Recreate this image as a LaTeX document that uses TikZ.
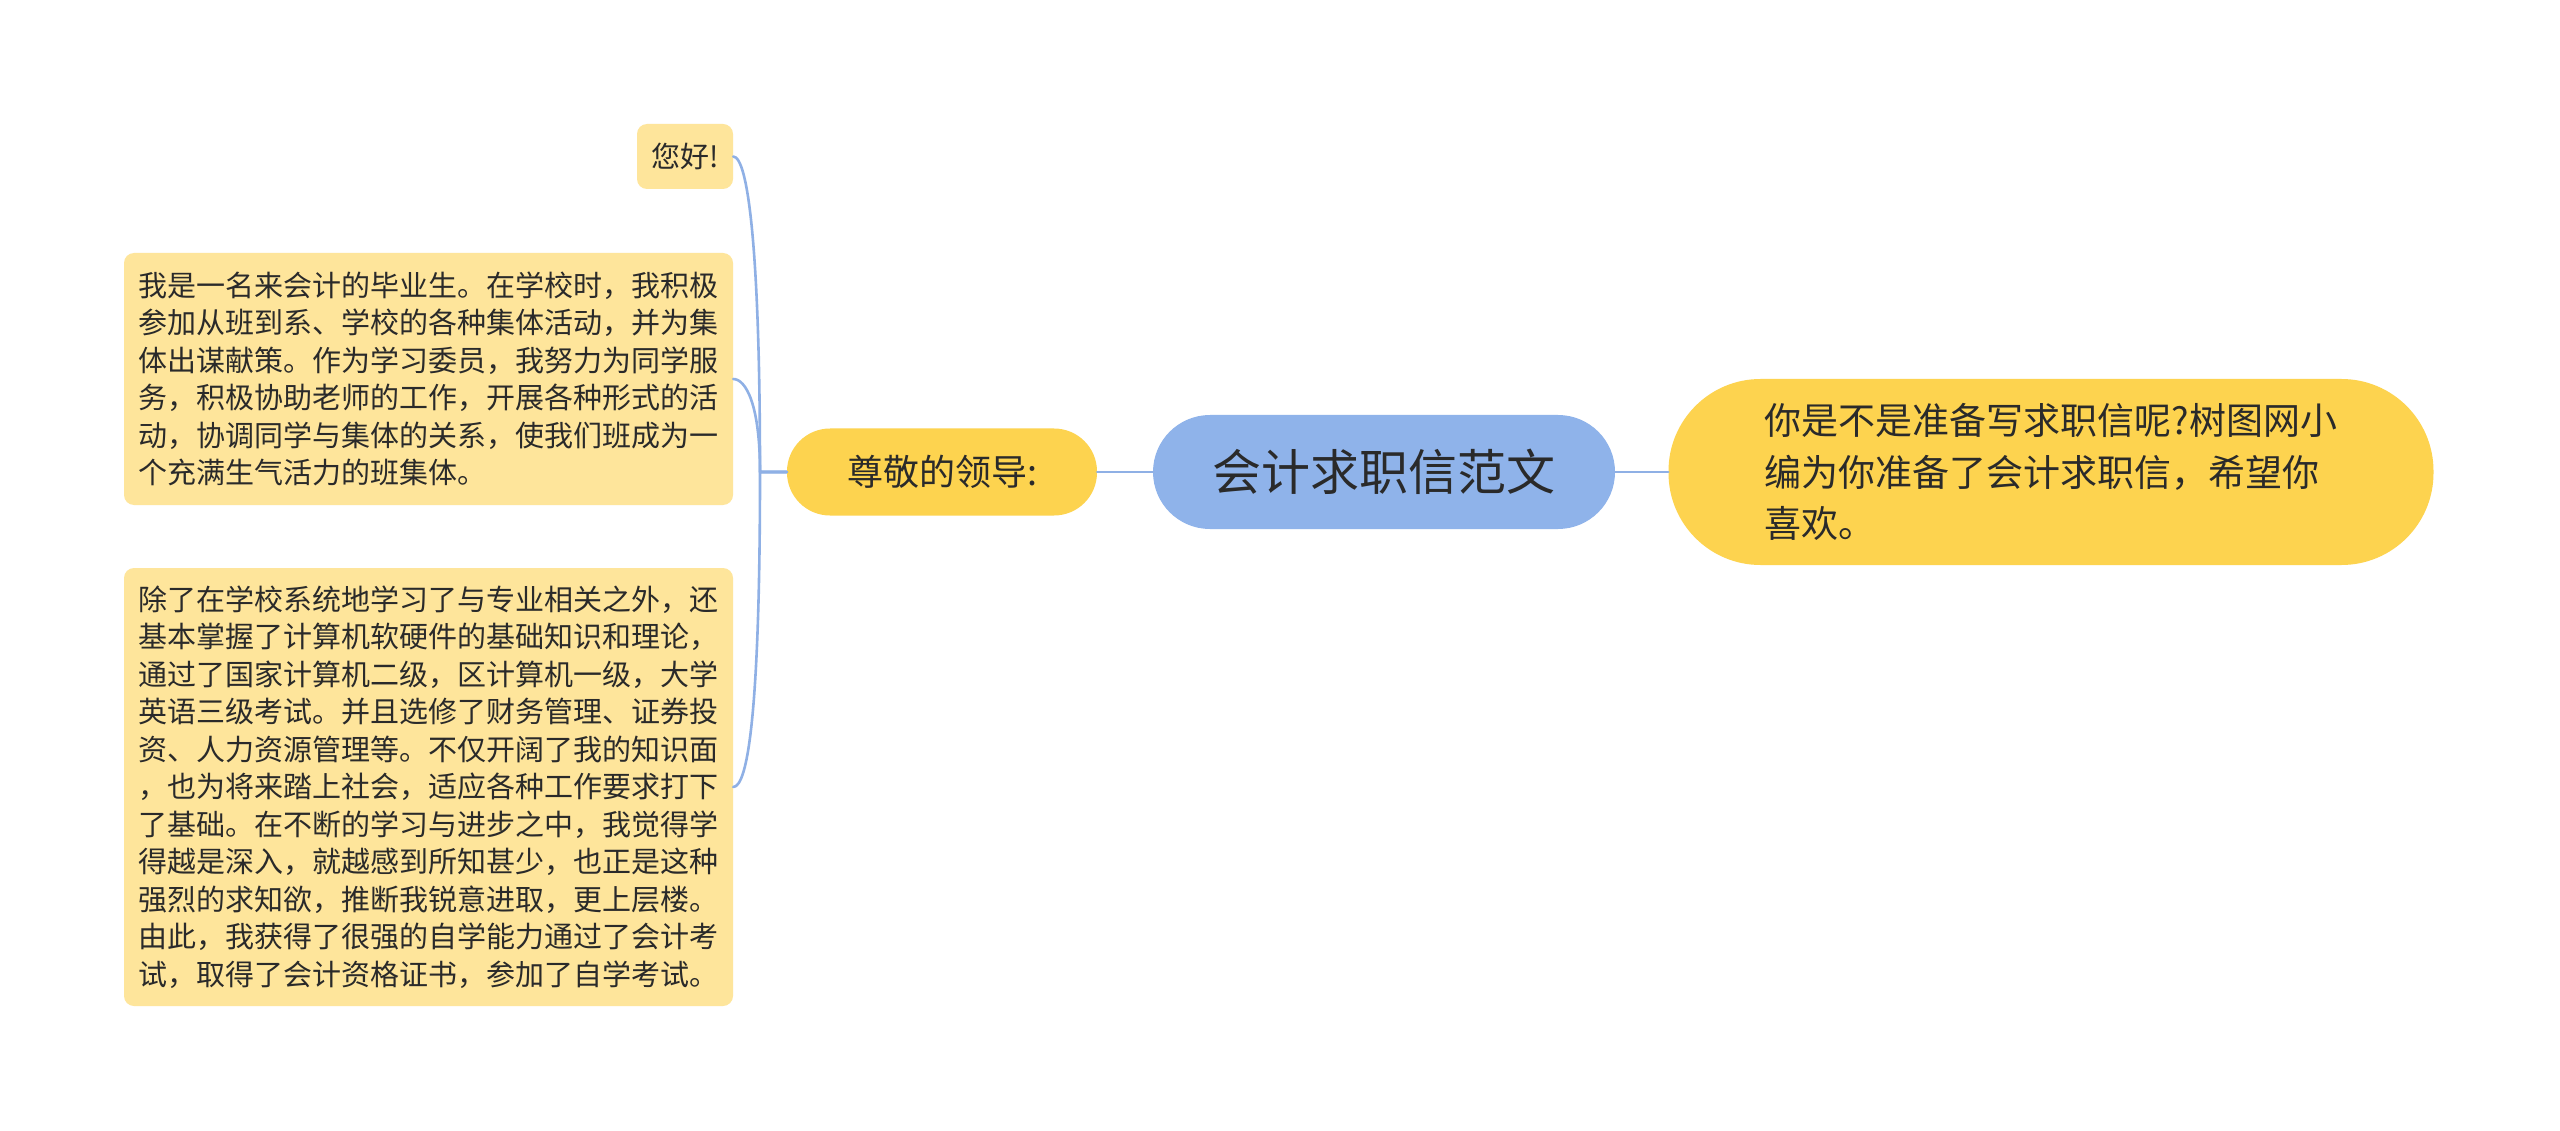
\documentclass[tikz,border=0pt]{standalone}
\usepackage{fontspec}
\newfontfamily\cjk{Noto Sans CJK SC}
\definecolor{rootfill}{HTML}{8FB3EA}
\definecolor{mainfill}{HTML}{FDD34F}
\definecolor{leaffill}{HTML}{FEE59B}
\definecolor{linecol}{HTML}{8FB0E5}
\definecolor{txt}{HTML}{2A2A2A}
\tikzset{
  rootbox/.style={fill=rootfill, draw=none, rounded corners=57pt, minimum width=462pt, minimum height=114pt, inner sep=0pt, text=txt, font=\cjk\fontsize{49}{60}\selectfont},
  mainbox/.style={fill=mainfill, draw=none, inner sep=0pt, text=txt},
  leafbox/.style={fill=leaffill, draw=none, rounded corners=10pt, inner sep=0pt, text=txt, align=left, font=\cjk\fontsize{29}{37.5}\selectfont},
  conn/.style={draw=linecol, line width=2.6pt, line cap=round, line join=round}
}
\begin{document}
\begin{tikzpicture}[x=1pt,y=-1pt]
\useasboundingbox[fill=white] (0,0) rectangle (2560,1131);

\node[rootbox] (root) at (1384,472) {会计求职信范文};
\node[mainbox, rounded corners=43pt, minimum width=310pt, minimum height=87pt, font=\cjk\fontsize{36}{44}\selectfont] (lead) at (942,472) {尊敬的领导:};
\node[mainbox, rounded corners=92pt, minimum width=765pt, minimum height=186pt, align=left, font=\cjk\fontsize{37}{51.5}\selectfont] (intro) at (2051,472) {你是不是准备写求职信呢?树图网小\\编为你准备了会计求职信，希望你\\喜欢。};

\node[leafbox, minimum width=96pt, minimum height=65pt] (hello) at (685,156.5) {您好!};
\node[leafbox, minimum width=609pt, minimum height=252pt] (p1) at (428.5,379) {我是一名来会计的毕业生。在学校时，我积极\\参加从班到系、学校的各种集体活动，并为集\\体出谋献策。作为学习委员，我努力为同学服\\务，积极协助老师的工作，开展各种形式的活\\动，协调同学与集体的关系，使我们班成为一\\个充满生气活力的班集体。};
\node[leafbox, minimum width=609pt, minimum height=438pt] (p2) at (428.5,787) {除了在学校系统地学习了与专业相关之外，还\\基本掌握了计算机软硬件的基础知识和理论，\\通过了国家计算机二级，区计算机一级，大学\\英语三级考试。并且选修了财务管理、证券投\\资、人力资源管理等。不仅开阔了我的知识面\\，也为将来踏上社会，适应各种工作要求打下\\了基础。在不断的学习与进步之中，我觉得学\\得越是深入，就越感到所知甚少，也正是这种\\强烈的求知欲，推断我锐意进取，更上层楼。\\由此，我获得了很强的自学能力通过了会计考\\试，取得了会计资格证书，参加了自学考试。};

\coordinate (spine) at (760,472);

\draw[conn] (root.west) -- (lead.east);
\draw[conn] (root.east) -- (intro.west);
\draw[conn] (lead.west) -- (spine) .. controls (760,250) and (748,156.5) .. (hello.east);
\draw[conn] (lead.west) -- (spine) .. controls (760,405) and (746,379) .. (p1.east);
\draw[conn] (lead.west) -- (spine) .. controls (760,710) and (748,787) .. (p2.east);
\end{tikzpicture}
\end{document}
